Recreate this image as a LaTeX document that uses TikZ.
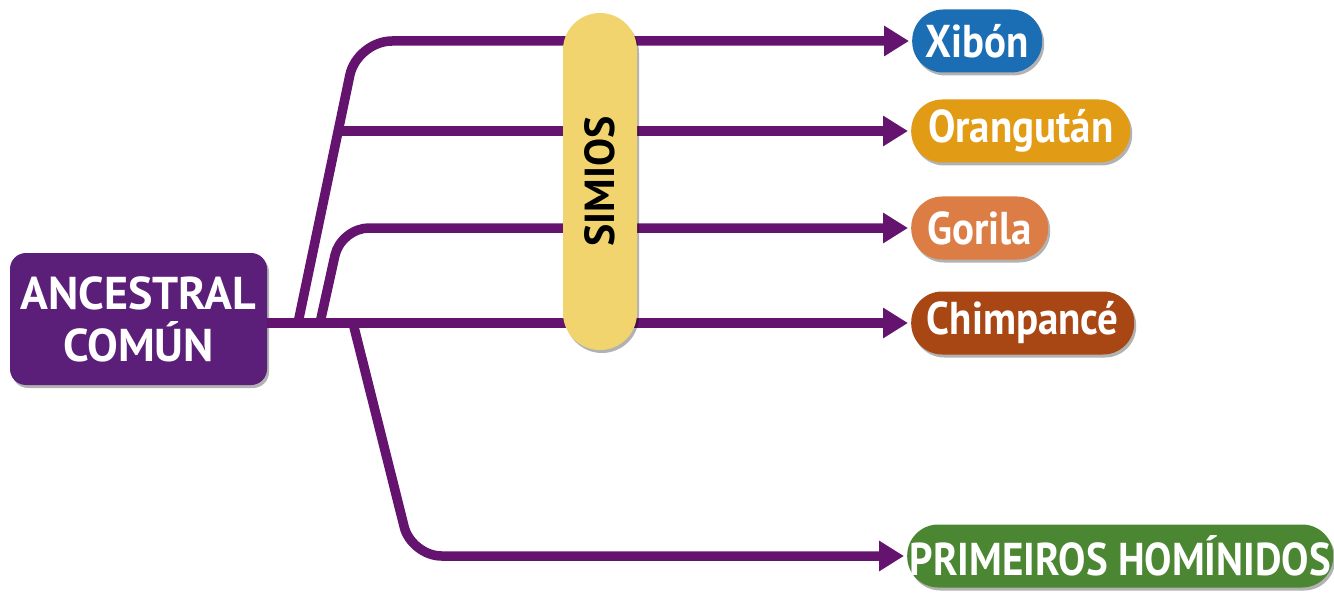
\documentclass[tikz,border=0pt]{standalone}
\usepackage{fontspec}
\setmainfont{PT Sans}
\newfontfamily\condfont{PT Sans}[FakeStretch=0.89]
\usetikzlibrary{arrows.meta,shadows,calc}
\definecolor{cline}{HTML}{64146E}
\definecolor{canc}{HTML}{5B1F7A}
\definecolor{cxib}{HTML}{1B6EB4}
\definecolor{cora}{HTML}{E19B14}
\definecolor{cgor}{HTML}{DC7D46}
\definecolor{cchi}{HTML}{A84614}
\definecolor{cpri}{HTML}{4B8732}
\definecolor{csim}{HTML}{F2D46E}
\begin{document}
\begin{tikzpicture}[x=1pt,y=-1pt,
  shad/.style={drop shadow={shadow xshift=2pt,shadow yshift=-3pt,opacity=0.3,fill=black}},
  pill/.style={shad,rounded corners=31pt,minimum height=63pt,inner sep=0pt,text=white,
    font=\condfont\bfseries\fontsize{46}{46}\selectfont,anchor=west},
  conn/.style={draw=cline,line width=9.5pt,-{Triangle[length=25pt,width=29pt]},shorten >=3pt}]
\useasboundingbox (0,0) rectangle (1334,599);
% nodes
\node[shad,fill=canc,rounded corners=16pt,minimum width=257pt,minimum height=132pt,
  text=white,align=center,font=\bfseries\fontsize{46}{52}\selectfont] (anc) at (138.5,319) {ANCESTRAL\\COMÚN};
\node[pill,fill=cxib,minimum width=130pt] (xib) at (912,41) {Xibón};
\node[pill,fill=cora,minimum width=219pt] (ora) at (911,131) {Orangután};
\node[pill,fill=cgor,minimum width=137pt] (gor) at (911,228) {Gorila};
\node[pill,fill=cchi,minimum width=223pt] (chi) at (911,323) {Chimpancé};
\node[pill,fill=cpri,minimum width=426pt] (pri) at (907,556) {PRIMEIROS HOMÍNIDOS};
% branch points
\coordinate (b1) at (298,323);
\coordinate (b2) at (320,323);
\coordinate (b3) at (353,323);
\coordinate (b4) at (338,131);
% connectors
\draw[conn] (anc.east |- chi.west) -- (chi.west);
\draw[conn,rounded corners=35pt] (b1) -- (357,41) -- (xib.west);
\draw[conn] (b4) -- (ora.west);
\draw[conn,rounded corners=28pt] (b2) -- (341,228) -- (gor.west);
\draw[conn,rounded corners=30pt] (b3) -- (411.5,556) -- (pri.west);
% simios
\node[shad,fill=csim,rounded corners=37pt,minimum width=337pt,minimum height=74pt,inner sep=0pt,
  rotate=90,font=\bfseries\fontsize{42}{42}\selectfont] (sim) at (600,181.5) {SIMIOS};
\end{tikzpicture}
\end{document}
